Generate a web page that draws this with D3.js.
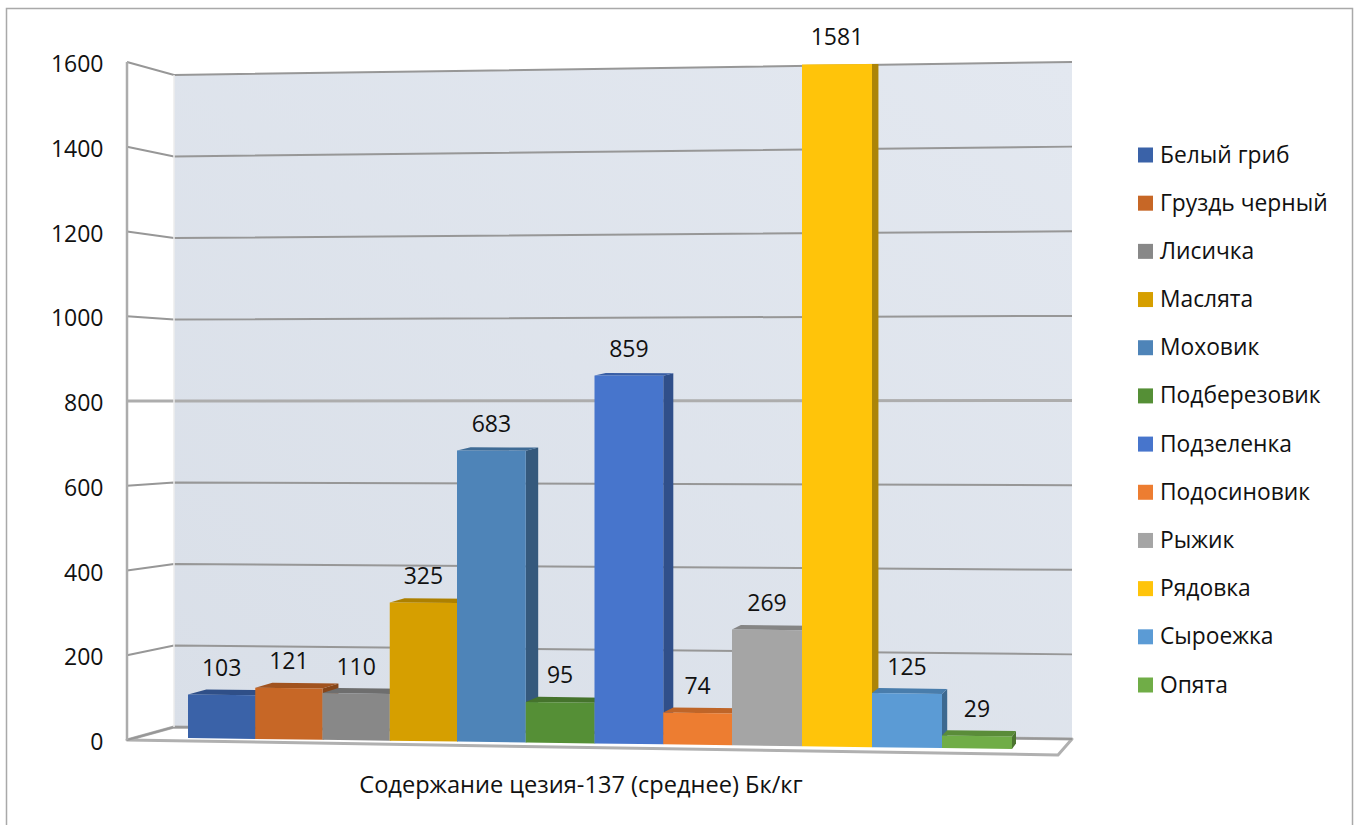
<!DOCTYPE html>
<html>
<head>
<meta charset="utf-8">
<script src="https://cdn.jsdelivr.net/npm/d3@7"></script>
<style>
  html, body { margin: 0; padding: 0; background: #fff; overflow: hidden; }
  text { font-family: "Open Sans", "Noto Sans", sans-serif; fill: #111; }
</style>
</head>
<body>
<svg id="chart" width="1354" height="825"></svg>
<script>
var names = ["Белый гриб", "Груздь черный", "Лисичка", "Маслята", "Моховик", "Подберезовик",
             "Подзеленка", "Подосиновик", "Рыжик", "Рядовка", "Сыроежка", "Опята"];
var values = [103, 121, 110, 325, 683, 95, 859, 74, 269, 1581, 125, 29];
var colors = ["#3A62A8", "#C76726", "#888888", "#D69F00", "#4E84B8", "#558F36",
              "#4775CC", "#ED7D31", "#A5A5A5", "#FFC40A", "#5B9BD5", "#70AD47"];
var ticks = [0, 200, 400, 600, 800, 1000, 1200, 1400, 1600];
var axisTitle = "Содержание цезия-137 (среднее) Бк/кг";

var svg = d3.select("#chart");
var fontsize = 23;

// chart frame
svg.append("rect")
    .attr("x", 6.5).attr("y", 8.5)
    .attr("width", 1346).attr("height", 840)
    .attr("fill", "#fff")
    .attr("stroke", "#a9a9a9")
    .attr("stroke-width", 1.5);

// the walls are three planes, each has its own value scale
var yFront = d3.scaleLinear().domain([0, 1600]).range([740, 62]);
var yBackLeft = d3.scaleLinear().domain([0, 1600]).range([727, 75]);
var yBackRight = d3.scaleLinear().domain([0, 1600]).range([739, 62]);
var wallLeft = 127, backLeft = 174, backRight = 1072, floorRight = 1058;

var defs = svg.append("defs");
var grad = defs.append("linearGradient").attr("id", "wallFill")
    .attr("x1", 0).attr("y1", 1).attr("x2", 1).attr("y2", 0);
grad.append("stop").attr("offset", "0%").attr("stop-color", "#d9dfe8");
grad.append("stop").attr("offset", "100%").attr("stop-color", "#e3e8f0");

var pathLine = d3.line();
function poly(pts, fill, stroke, width){
    return svg.append("path")
        .attr("d", pathLine(pts) + "Z")
        .attr("fill", fill)
        .attr("stroke", stroke || "none")
        .attr("stroke-width", width || 0)
        .attr("stroke-linejoin", "round");
}

poly([[backLeft, yBackLeft(1600)], [backRight, yBackRight(1600)],
      [backRight, yBackRight(0)], [backLeft, yBackLeft(0)]], "url(#wallFill)");
// floor
poly([[wallLeft, yFront(0)], [backLeft, yBackLeft(0)], [backRight, yBackRight(0)],
      [floorRight, 755]], "#fff", "#b0b0b0", 3);

// gridlines run along the back wall and come forward along the left one
svg.append("g").selectAll("path")
    .data(ticks)
    .enter()
    .append("path")
    .attr("d", function(d){
        return pathLine([[wallLeft, yFront(d)], [backLeft, yBackLeft(d)], [backRight, yBackRight(d)]]);
    })
    .attr("fill", "none")
    .attr("stroke", function(d){ return d == 800 ? "#adadad" : "#979797"; })
    .attr("stroke-width", function(d){ return d == 800 ? 3 : 2; });

svg.append("path")
    .attr("d", pathLine([[wallLeft, yFront(1600)], [wallLeft, yFront(0)]]))
    .attr("stroke", "#acacac").attr("stroke-width", 2.5);
svg.append("path")
    .attr("d", pathLine([[backLeft, yBackLeft(1600)], [backLeft, yBackLeft(0)]]))
    .attr("stroke", "#ececec").attr("stroke-width", 1.5);

// bars: spacing grows a little to the right because of the perspective
var barX = d3.scaleLinear().domain([0, 4, 8, 12]).range([188, 457, 732, 1012]);
var barFrac = d3.scaleLinear().domain([188, 1012]).range([0, 1]);
var yBarLeft = d3.scaleLinear().domain([0, 1600]).range([738, 62]);
var yBarRight = d3.scaleLinear().domain([0, 1600]).range([749, 54.4]);
var depthX = d3.scaleLinear().domain([188, 1012]).range([18.3, 4]);
var depthY = d3.scaleLinear().domain([64, 690]).range([0, 5]);

function barY(x, v){
    return d3.interpolateNumber(yBarLeft(v), yBarRight(v))(barFrac(x));
}
function back(x, y){
    return [x + depthX(x), y - depthY(y)];
}

var bars = values.map(function(v, i){
    var x0 = barX(i), x1 = barX(i + 1);
    return { value: v, color: colors[i], x0: x0, x1: x1,
             top0: barY(x0, v), top1: barY(x1, v),
             base0: barY(x0, 0), base1: barY(x1, 0) };
});

// sides and tops first, the fronts all lie in one plane and go over them
bars.forEach(function(b){
    var c = d3.color(b.color);
    poly([[b.x1, b.top1], back(b.x1, b.top1), back(b.x1, b.base1), [b.x1, b.base1]], c.darker(1.1).formatHex());
    poly([[b.x0, b.top0], back(b.x0, b.top0), back(b.x1, b.top1), [b.x1, b.top1]], c.darker(0.6).formatHex());
});
bars.forEach(function(b){
    poly([[b.x0, b.top0], [b.x1, b.top1], [b.x1, b.base1], [b.x0, b.base0]], b.color);
});

svg.append("g").selectAll("text")
    .data(bars)
    .enter()
    .append("text")
    .attr("x", function(d){ return (d.x0 + d.x1) / 2; })
    .attr("y", function(d){ return (d.top0 + d.top1) / 2 - 28; })
    .attr("text-anchor", "middle")
    .attr("dominant-baseline", "central")
    .attr("font-size", fontsize)
    .text(function(d){ return d.value; });

// value axis
var axis = d3.axisLeft(yFront).tickValues(ticks).tickSize(0).tickPadding(0).tickFormat(d3.format("d"));
var axisG = svg.append("g").attr("transform", "translate(103.5,0.5)").call(axis);
axisG.select(".domain").remove();
axisG.selectAll("text")
    .attr("font-size", fontsize)
    .attr("dy", null)
    .attr("dominant-baseline", "central");
axisG.attr("font-family", null).attr("font-size", null);

svg.append("text")
    .attr("x", 581).attr("y", 784)
    .attr("text-anchor", "middle")
    .attr("dominant-baseline", "central")
    .attr("font-size", 23.6)
    .text(axisTitle);

// legend
var legendY = d3.scalePoint().domain(names).range([155, 685]);
var legend = svg.append("g").selectAll("g")
    .data(names)
    .enter()
    .append("g")
    .attr("transform", function(d){ return "translate(1138," + legendY(d) + ")"; });
legend.append("rect")
    .attr("x", 0).attr("y", -7.5)
    .attr("width", 15).attr("height", 15)
    .attr("fill", function(d, i){ return colors[i]; });
legend.append("text")
    .attr("x", 22).attr("y", -1)
    .attr("dominant-baseline", "central")
    .attr("font-size", 22.8)
    .text(function(d){ return d; });
</script>
</body>
</html>
